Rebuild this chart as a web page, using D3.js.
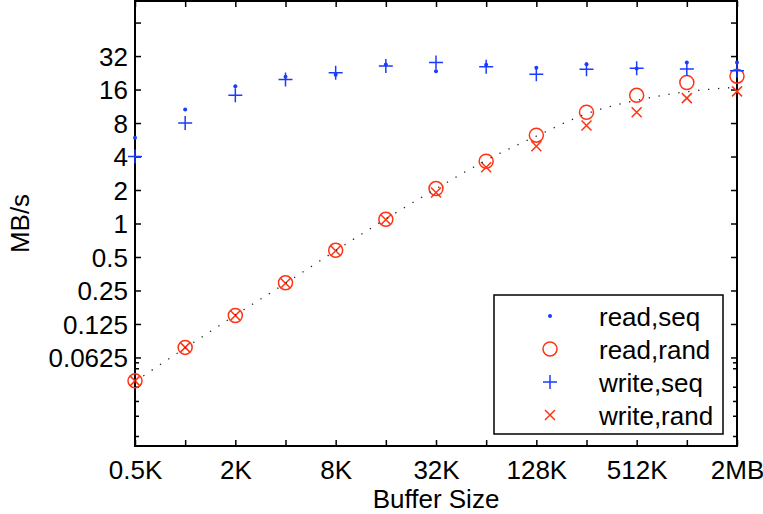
<!DOCTYPE html>
<html>
<head>
<meta charset="utf-8">
<script src="https://cdn.jsdelivr.net/npm/d3@7"></script>
<style>
  body { margin: 0; background: #fff; }
  svg { font-family: "Liberation Sans", Arial, Helvetica, sans-serif; }
</style>
</head>
<body>
<div id="viz"></div>
<script>
// buffer sizes in KB (0.5K .. 2MB)
var sizes = [0.5, 1, 2, 4, 8, 16, 32, 64, 128, 256, 512, 1024, 2048];
var sizeLabels = ['0.5K', '', '2K', '', '8K', '', '32K', '', '128K', '', '512K', '', '2MB'];

// MB/s
var readSeq   = [5.9, 10.6, 17.1, 20.8, 21.7, 26.9, 23.4, 26.7, 25.1, 27.0, 24.7, 28.0, 28.0];
var readRand  = [0.0385, 0.077, 0.149, 0.293, 0.574, 1.09, 2.06, 3.63, 6.22, 10.0, 14.2, 18.5, 21.1];
var writeSeq  = [4.0, 8.0, 14.2, 19.7, 22.6, 26.0, 28.0, 25.7, 22.0, 24.4, 24.9, 24.5, 23.6];
var writeRand = [0.0385, 0.077, 0.149, 0.29, 0.57, 1.08, 1.9, 3.2, 4.95, 7.6, 10.0, 13.4, 15.4];
// dotted model curve
var modelFit  = [0.038, 0.076, 0.15, 0.29, 0.57, 1.1, 2.05, 3.7, 6.1, 9.7, 12.8, 15.3, 16.8];

var yTicks = [0.0625, 0.125, 0.25, 0.5, 1, 2, 4, 8, 16, 32, 64];
var yLabels = ['0.0625', '0.125', '0.25', '0.5', '1', '2', '4', '8', '16', '32', ''];
var yMinor = [0.0565, 0.05, 0.0341, 0.0254, 0.0187, 0.0123];

var legendNames = ['read,seq', 'read,rand', 'write,seq', 'write,rand'];

var w = 763, h = 514;
var pL = 135, pR = 737, pT = 1, pB = 446;
var blue = '#1b3cff', red = '#ff3314';
var fs = 26;

var svg = d3.select('#viz').append('svg')
  .attr('width', w).attr('height', h);

var x = d3.scaleLog().base(2).domain([0.5, 2048]).range([pL, pR]);
var y = d3.scaleLog().domain([0.01, 100]).range([pB, pT]);

function styleAxis(g) {
  g.select('.domain').remove();
  g.selectAll('line').attr('stroke', '#000').attr('stroke-width', 1.5);
  g.selectAll('text').attr('fill', '#000').style('font-size', fs + 'px')
    .style('font-family', '"Liberation Sans", Arial, Helvetica, sans-serif');
}

// bottom
svg.append('g').attr('transform', 'translate(0,' + pB + ')')
  .call(d3.axisBottom(x).tickValues(sizes).tickSize(-6).tickPadding(15)
    .tickFormat((d, i) => sizeLabels[i]))
  .call(styleAxis);
// top
svg.append('g').attr('transform', 'translate(0,' + pT + ')')
  .call(d3.axisTop(x).tickValues(sizes).tickSize(-6).tickFormat(''))
  .call(styleAxis);
// left
svg.append('g').attr('transform', 'translate(' + pL + ',0)')
  .call(d3.axisLeft(y).tickValues(yTicks).tickSize(-6).tickPadding(7)
    .tickFormat((d, i) => yLabels[i]))
  .call(styleAxis)
  .selectAll('text').attr('dy', '0.36em');
svg.append('g').attr('transform', 'translate(' + pL + ',0)')
  .call(d3.axisLeft(y).tickValues(yMinor).tickSize(-4).tickFormat(''))
  .call(styleAxis);
// right
svg.append('g').attr('transform', 'translate(' + pR + ',0)')
  .call(d3.axisRight(y).tickValues(yTicks).tickSize(-6).tickFormat(''))
  .call(styleAxis);
svg.append('g').attr('transform', 'translate(' + pR + ',0)')
  .call(d3.axisRight(y).tickValues(yMinor).tickSize(-4).tickFormat(''))
  .call(styleAxis);

// box
svg.append('rect')
  .attr('x', pL).attr('y', pT)
  .attr('width', pR - pL).attr('height', pB - pT)
  .attr('fill', 'none').attr('stroke', '#000').attr('stroke-width', 2);

// axis titles
svg.append('text')
  .attr('x', (pL + pR) / 2).attr('y', 508)
  .attr('text-anchor', 'middle').style('font-size', fs + 'px')
  .text('Buffer Size');
svg.append('text')
  .attr('transform', 'translate(29,' + ((pT + pB) / 2) + ') rotate(-90)')
  .attr('text-anchor', 'middle').style('font-size', fs + 'px')
  .text('MB/s');

// marker shapes
function dot(g) {
  g.append('circle').attr('r', 2).attr('fill', blue);
}
function ring(g) {
  g.append('circle').attr('r', 7).attr('fill', 'none')
    .attr('stroke', red).attr('stroke-width', 1.5);
}
function plus(g) {
  g.append('path').attr('d', 'M-7,0H7M0,-7V7')
    .attr('stroke', blue).attr('stroke-width', 1.5).attr('fill', 'none');
}
function cross(g) {
  g.append('path').attr('d', 'M-5,-5L5,5M-5,5L5,-5')
    .attr('stroke', red).attr('stroke-width', 1.5).attr('fill', 'none');
}
var markers = [dot, ring, plus, cross];
var series = [readSeq, readRand, writeSeq, writeRand];

series.forEach(function(vals, k) {
  svg.append('g').selectAll('g')
    .data(vals)
    .enter()
    .append('g')
    .attr('transform', (d, i) => 'translate(' + x(sizes[i]) + ',' + y(d) + ')')
    .each(function() { markers[k](d3.select(this)); });
});

// dotted curve
var line = d3.line()
  .x((d, i) => x(sizes[i]))
  .y(d => y(d))
  .curve(d3.curveMonotoneX);
svg.append('path')
  .datum(modelFit)
  .attr('d', line)
  .attr('fill', 'none')
  .attr('stroke', '#222')
  .attr('stroke-width', 1.3)
  .attr('stroke-dasharray', '1.3,8.7');

// legend
var lg = svg.append('g');
lg.append('rect')
  .attr('x', 494).attr('y', 295).attr('width', 229).attr('height', 139)
  .attr('fill', '#fff').attr('stroke', '#000').attr('stroke-width', 1.5);
var legY = [316, 349, 382, 415];
legendNames.forEach(function(name, k) {
  var g = lg.append('g').attr('transform', 'translate(550,' + legY[k] + ')');
  markers[k](g);
  lg.append('text')
    .attr('x', 599).attr('y', legY[k] + 10)
    .style('font-size', fs + 'px')
    .text(name);
});
</script>
</body>
</html>
